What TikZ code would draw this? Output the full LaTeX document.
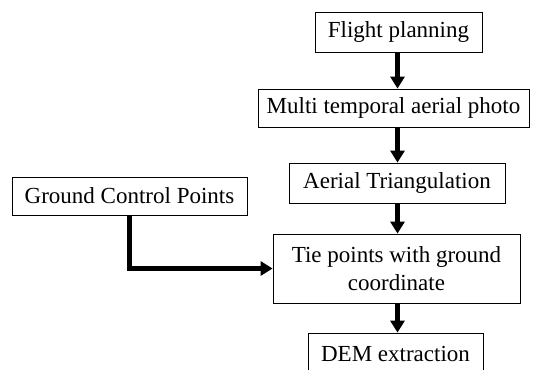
\documentclass[tikz,border=0pt]{standalone}
\usepackage{fontspec}
\setmainfont{Liberation Serif}
\usetikzlibrary{arrows.meta}
\begin{document}
\begin{tikzpicture}[x=1pt,y=-1pt,
  box/.style={draw, line width=0.8pt, inner sep=0pt, align=center,
    font=\fontsize{23}{28}\selectfont},
  arr/.style={line width=4.5pt, -{Triangle[width=14pt,length=12pt]}}]
\useasboundingbox (0,0) rectangle (534,369);
\clip (0,0) rectangle (534,369);
\coordinate (axis) at (397.5,0);
\node[box, minimum width=167pt, minimum height=40pt] (flight) at (398.5,32) {Flight planning};
\node[box, minimum width=271pt, minimum height=38pt] (multi) at (393.5,108) {Multi temporal aerial photo};
\node[box, minimum width=216pt, minimum height=40pt] (aerial) at (397,183) {Aerial Triangulation};
\node[box, minimum width=235pt, minimum height=38pt] (gcp) at (129.5,196) {Ground Control Points};
\node[box, minimum width=247pt, minimum height=69pt] (tie) at (396.5,268.5) {Tie points with ground\\coordinate};
\node[box, minimum width=175pt, minimum height=42pt] (dem) at (395.5,354) {DEM extraction};
\draw[arr] (flight.south -| axis) -- (multi.north -| axis);
\draw[arr] (multi.south -| axis) -- (aerial.north -| axis);
\draw[arr] (aerial.south -| axis) -- (tie.north -| axis);
\draw[arr] (tie.south -| axis) -- (dem.north -| axis);
\draw[arr] (gcp.south) |- (tie.west);
\end{tikzpicture}
\end{document}
